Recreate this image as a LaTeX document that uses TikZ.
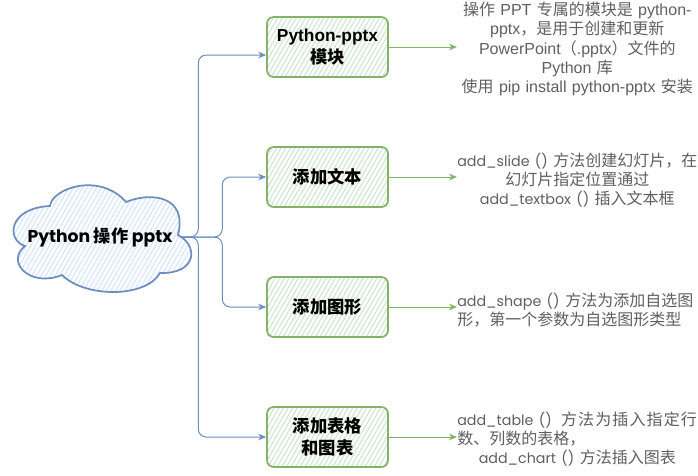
\documentclass[tikz,border=0pt]{standalone}
\usepackage{fontspec}
\usepackage{tikz}
\usetikzlibrary{arrows.meta,calc,patterns.meta}
\setmainfont{Liberation Sans}
\newfontfamily\cjk{Noto Sans CJK SC}
\newfontfamily\codefont{Poppins}
\newcommand{\zh}[1]{{\cjk #1}}
\newcommand{\code}[1]{{\codefont\fontsize{10.7pt}{14pt}\selectfont #1}}

\begin{document}
\begin{tikzpicture}[x=0.75pt,y=-0.75pt,
    modbox/.style={draw=modgreen, line width=1.3pt, rounded corners=5pt,
        minimum width=90.75pt, minimum height=45pt, inner sep=0pt, align=center,
        font=\fontsize{13pt}{17pt}\selectfont\bfseries,
        pattern={Lines[angle=60,distance=3pt,line width=1pt]}, pattern color=modfill},
    notetext/.style={anchor=west, inner sep=0pt, text width=180pt, align=center, text=notegray,
        font=\fontsize{12pt}{14.4pt}\selectfont},
    bluelink/.style={draw=linkblue, line width=0.75pt, rounded corners=6pt, -{Stealth[length=6pt,width=5pt]}},
    greenlink/.style={draw=modgreen, line width=0.75pt, -{Stealth[length=6pt,width=5pt]}}]
    \definecolor{modgreen}{HTML}{82B366}
    \definecolor{modfill}{HTML}{D5E8D4}
    \definecolor{linkblue}{HTML}{6C8EBF}
    \definecolor{cloudfill}{HTML}{DAE8FC}
    \definecolor{notegray}{HTML}{5F5F5F}
    \useasboundingbox (0,0) rectangle (698,475);

    % Cloud
    \path[draw=linkblue, line width=1.3pt, pattern={Lines[angle=60,distance=3pt,line width=1pt]}, pattern color=cloudfill]
        (25,246) .. controls (6,240) and (8,208) .. (50,206)
        .. controls (52,188) and (100,172) .. (126,202)
        .. controls (150,192) and (188,195) .. (178,235)
        .. controls (198,245) and (198,274) .. (160,273)
        .. controls (146,298) and (85,298) .. (62,275)
        .. controls (30,288) and (5,262) .. (25,246) -- cycle;
    \node[minimum width=120pt, inner sep=0pt, font=\fontsize{12.9pt}{15pt}\selectfont\bfseries] (cloud) at (100,237)
        {\codefont Python \zh{操作} pptx};

    % Modules
    \node[modbox] (pybox) at (327.5,47) {Python-pptx\\\zh{模块}};
    \node[modbox] (textbox) at (327.5,177) {\zh{添加文本}};
    \node[modbox] (shapebox) at (327.5,307) {\zh{添加图形}};
    \node[modbox] (tablebox) at (327.5,437) {\zh{添加表格}\\\zh{和图表}};
    \coordinate (pyin) at ($(pybox.west)+(0,8)$);

    % Notes
    \node[notetext] (pynote) at (457,49) {\zh{操作} PPT \zh{专属的模块是} python-\\pptx\zh{，是用于创建和更新}\\PowerPoint\zh{（}.pptx\zh{）文件的}\\Python \zh{库}\\\zh{使用} pip install python-pptx \zh{安装}};
    \node[notetext] (textnote) at (457,180) {\code{add\_slide ()} \zh{方法创建幻灯片，在}\\\zh{幻灯片指定位置通过}\\\code{add\_textbox ()} \zh{插入文本框}};
    \node[notetext] (shapenote) at (457,310) {\makebox[\linewidth][l]{\code{add\_shape ()}\hspace{0.3pt} \zh{方法为添加自选图}}\\\makebox[\linewidth][l]{\zh{形，第一个参数为自选图形类型}}};
    \node[notetext] (tablenote) at (457,439) {\makebox[\linewidth][l]{\code{add\_table ()}\hspace{3pt} {\cjk\addfontfeature{LetterSpace=7}方法为插入指定行}}\\\makebox[\linewidth][l]{\zh{数、列数的表格，}}\\\code{add\_chart ()} \zh{方法插入图表}};

    % Links from the cloud
    \draw[bluelink] (cloud.east) -- ++(18,0) |- (pyin);
    \draw[bluelink] (cloud.east) -- ++(42,0) |- (textbox.west);
    \draw[bluelink] (cloud.east) -- ++(42,0) |- (shapebox.west);
    \draw[bluelink] (cloud.east) -- ++(18,0) |- (tablebox.west);

    % Links to the notes
    \draw[greenlink] (pybox.east) -- (pynote.west |- pybox.east);
    \draw[greenlink] (textbox.east) -- (textnote.west |- textbox.east);
    \draw[greenlink] (shapebox.east) -- (shapenote.west |- shapebox.east);
    \draw[greenlink] (tablebox.east) -- (tablenote.west |- tablebox.east);
\end{tikzpicture}
\end{document}
